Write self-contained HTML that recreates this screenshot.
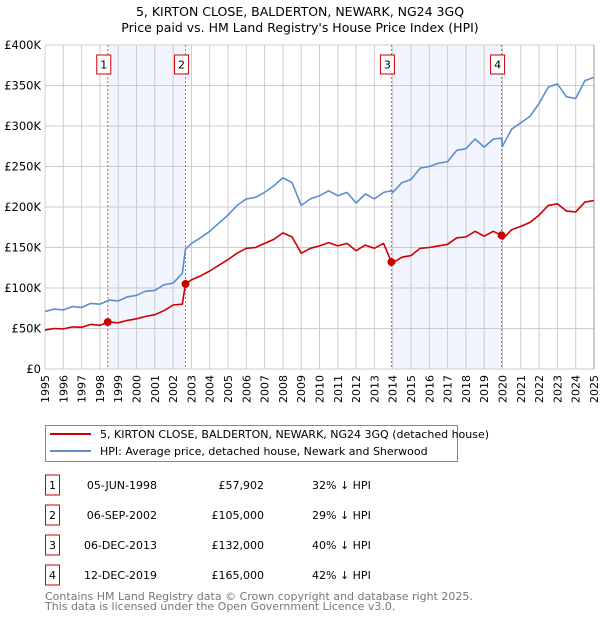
<!DOCTYPE html>
<html><head><meta charset="utf-8"><style>
body{margin:0;background:#fff;font-family:"DejaVu Sans","Liberation Sans",sans-serif;}
svg text{font-family:"DejaVu Sans","Liberation Sans",sans-serif;}
</style></head><body>
<svg id="chart" width="600" height="620" xmlns="http://www.w3.org/2000/svg">
<text x="300" y="16" text-anchor="middle" font-size="12.5">5, KIRTON CLOSE, BALDERTON, NEWARK, NG24 3GQ</text>
<text x="300" y="32" text-anchor="middle" font-size="12.5">Price paid vs. HM Land Registry's House Price Index (HPI)</text>
<g id="plot"></g>
<g>
<rect x="45.5" y="425.5" width="412" height="36" fill="#fff" stroke="#888"/>
<line x1="50" y1="434" x2="91" y2="434" stroke="#cc0000" stroke-width="2"/>
<text x="100" y="438" font-size="11">5, KIRTON CLOSE, BALDERTON, NEWARK, NG24 3GQ (detached house)</text>
<line x1="50" y1="451" x2="91" y2="451" stroke="#5b8dd0" stroke-width="2"/>
<text x="100" y="455" font-size="11">HPI: Average price, detached house, Newark and Sherwood</text>
</g>
<g id="table"></g>
<text x="45" y="600" font-size="11" fill="#777">Contains HM Land Registry data © Crown copyright and database right 2025.</text>
<text x="45" y="610" font-size="11" fill="#777">This data is licensed under the Open Government Licence v3.0.</text>
</svg>
<script>
const years=[1995,1995.5,1996,1996.5,1997,1997.5,1998,1998.5,1999,1999.5,2000,2000.5,2001,2001.5,2002,2002.5,2002.68,2003,2003.5,2004,2004.5,2005,2005.5,2006,2006.5,2007,2007.5,2008,2008.5,2009,2009.5,2010,2010.5,2011,2011.5,2012,2012.5,2013,2013.5,2013.93,2014,2014.5,2015,2015.5,2016,2016.5,2017,2017.5,2018,2018.5,2019,2019.5,2019.95,2020,2020.5,2021,2021.5,2022,2022.5,2023,2023.5,2024,2024.5,2025];
const hpiValues=[71,74,73,77,76,81,80,85,84,89,91,96,97,104,106,118,148,155,162,170,180,190,202,210,212,218,226,236,230,202,210,214,220,214,218,205,216,210,218,220,218,230,234,248,250,254,256,270,272,284,274,284,285,275,296,304,312,328,348,352,336,334,356,360];
const priceValues=[48,50,49.5,52,51.5,55,54,58,57,60,62,65,67,72,79,80,105,110,115,121,128,135,143,149,150,155,160,168,163,143,149,152,156,152,155,146,153,149,155,132,131,138,140,149,150,152,154,162,163,170,164,170,165,160,172,176,181,190,202,204,195,194,206,208];
const saleYears=[1998.43,2002.68,2013.93,2019.95];
const salePrices=[57.902,105,132,165];
const saleDates=["05-JUN-1998","06-SEP-2002","06-DEC-2013","12-DEC-2019"];
const salePriceLabels=["£57,902","£105,000","£132,000","£165,000"];
const saleHpiLabels=["32% ↓ HPI","29% ↓ HPI","40% ↓ HPI","42% ↓ HPI"];
const yTicks=[0,50,100,150,200,250,300,350,400];
const yTickLabels=["£0","£50K","£100K","£150K","£200K","£250K","£300K","£350K","£400K"];
const xTicks=[1995,1996,1997,1998,1999,2000,2001,2002,2003,2004,2005,2006,2007,2008,2009,2010,2011,2012,2013,2014,2015,2016,2017,2018,2019,2020,2021,2022,2023,2024,2025];

const NS="http://www.w3.org/2000/svg";
const X0=45,X1=594,Y0=369,Y1=45;
const xs=y=>X0+(y-1995)/30*(X1-X0);
const ys=v=>Y0-v/400*(Y0-Y1);
const plot=document.getElementById('plot');
function mk(tag,attrs,parent){const e=document.createElementNS(NS,tag);for(const k in attrs)e.setAttribute(k,attrs[k]);(parent||plot).appendChild(e);return e;}

for(let i=0;i<saleYears.length;i+=2){
  const r=mk('rect',{x:xs(saleYears[i]),y:Y1,width:xs(saleYears[i+1])-xs(saleYears[i]),height:Y0-Y1,fill:'#edf2fc',opacity:0.75});
  
  
}
xTicks.forEach(t=>{const l=mk('line',{x1:xs(t),x2:xs(t),y1:Y1,y2:Y0,stroke:'#cccccc','stroke-width':1});
  
  const px=xs(t)+4,py=375;
  const tx=mk('text',{x:px,y:py,'text-anchor':'end','font-size':11,transform:'rotate(-90 '+px+' '+py+')'});tx.textContent=t;
  });
yTicks.forEach((t,i)=>{const l=mk('line',{x1:X0,x2:X1,y1:ys(t),y2:ys(t),stroke:'#cccccc','stroke-width':1});
  
  const tx=mk('text',{x:41,y:ys(t)+4,'text-anchor':'end','font-size':11.5});tx.textContent=yTickLabels[i];
  });
mk('line',{x1:X1,x2:X1,y1:Y1,y2:Y0,stroke:'#999'});
saleYears.forEach((s,i)=>{
  const l=mk('line',{x1:xs(s),x2:xs(s),y1:Y1,y2:Y0,stroke:'#e06060','stroke-dasharray':'2,2','stroke-width':1});
  
  const g=mk('g',{});
  
  mk('rect',{x:xs(s)-11,y:55,width:14,height:19,fill:'#fff',stroke:'#cc0000'},g);
  const t=mk('text',{x:xs(s)-4,y:68.5,'text-anchor':'middle','font-size':11},g);t.textContent=i+1;
});
function path(vals,color,name){
  const d=years.map((y,i)=>(i?'L':'M')+xs(y).toFixed(1)+','+ys(vals[i]).toFixed(1)).join('');
  const p=mk('path',{d:d,fill:'none',stroke:color,'stroke-width':1.6,'stroke-linejoin':'round'});
  
}
path(hpiValues,'#5b8dd0','hpi-line');
path(priceValues,'#cc0000','price-paid-line');
saleYears.forEach((s,i)=>{const c=mk('circle',{cx:xs(s),cy:ys(salePrices[i]),r:4,fill:'#cc0000'});
  });

const tb=document.getElementById('table');
saleDates.forEach((d,i)=>{
  const cy=485+i*30;
  const g=mk('g',{},tb);
  
  mk('rect',{x:45.5,y:cy-10,width:14,height:20,fill:'#fff',stroke:'#cc0000'},g);
  const a=mk('text',{x:52.5,y:cy+4,'text-anchor':'middle','font-size':11},g);a.textContent=i+1;
  const b=mk('text',{x:157,y:cy+4,'text-anchor':'end','font-size':11},g);b.textContent=d;
  const c=mk('text',{x:264,y:cy+4,'text-anchor':'end','font-size':11},g);c.textContent=salePriceLabels[i];
  const e=mk('text',{x:312,y:cy+4,'font-size':11},g);e.textContent=saleHpiLabels[i];
});
</script>
</body></html>
